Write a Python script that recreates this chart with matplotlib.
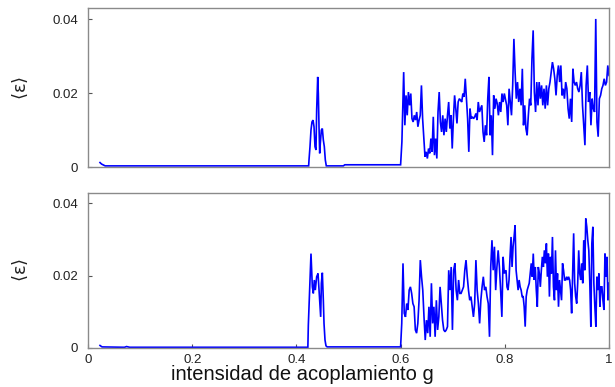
import numpy as np
import matplotlib
matplotlib.use("Agg")
import matplotlib.pyplot as plt

plt.rcParams['font.family'] = ['Liberation Sans', 'DejaVu Sans']
plt.rcParams['mathtext.fontset'] = 'dejavusans'

# ---------------- data: top panel ----------------
top_base_g = [0.023, 0.026, 0.033, 0.4235]
top_base_v = [0.0012, 0.0008, 0.0003, 0.0003]
top_peak_g = [0.4242, 0.4261, 0.4280, 0.4299, 0.4319, 0.4338, 0.4357, 0.4376, 0.4389, 0.4409,
              0.4421, 0.4434, 0.4447, 0.4459, 0.4479, 0.4498, 0.4517, 0.4536, 0.4555, 0.4574]
top_peak_v = [0.0019, 0.0055, 0.0100, 0.0122, 0.0127, 0.0109, 0.0055, 0.0046, 0.0154, 0.0244,
              0.0199, 0.0109, 0.0037, 0.0064, 0.0100, 0.0104, 0.0073, 0.0055, 0.0019, 0.0003]
top_mid_g = [0.490, 0.493, 0.600, 0.6025]
top_mid_v = [0.0003, 0.0006, 0.0006, 0.0068]
top_a_range = (0.6059, 0.7991)
top_a_v = [0.0257, 0.0113, 0.0194, 0.0140, 0.0203, 0.0167, 0.0199, 0.0131, 0.0122, 0.0140,
           0.0127, 0.0149, 0.0109, 0.0127, 0.0140, 0.0221, 0.0131, 0.0077, 0.0028, 0.0041,
           0.0023, 0.0050, 0.0037, 0.0077, 0.0041, 0.0136, 0.0032, 0.0077, 0.0023, 0.0149,
           0.0203, 0.0122, 0.0095, 0.0140, 0.0086, 0.0131, 0.0095, 0.0140, 0.0176, 0.0104,
           0.0140, 0.0050, 0.0131, 0.0194, 0.0158, 0.0118, 0.0176, 0.0185, 0.0181, 0.0176,
           0.0199, 0.0190, 0.0239, 0.0185, 0.0131, 0.0041, 0.0158, 0.0131, 0.0136, 0.0131,
           0.0136, 0.0145, 0.0127, 0.0176, 0.0149, 0.0158, 0.0167, 0.0095, 0.0068, 0.0113,
           0.0086, 0.0185, 0.0244, 0.0086, 0.0140, 0.0032, 0.0194, 0.0158, 0.0185, 0.0172,
           0.0140, 0.0176, 0.0149, 0.0199, 0.0176, 0.0199]
top_b_range = (0.8036, 1.0)
top_b_v = [0.0167, 0.0113, 0.0212, 0.0176, 0.0140, 0.0221, 0.0347, 0.0257, 0.0185, 0.0230,
           0.0176, 0.0212, 0.0167, 0.0266, 0.0113, 0.0167, 0.0104, 0.0086, 0.0140, 0.0185,
           0.0167, 0.0293, 0.0370, 0.0203, 0.0149, 0.0230, 0.0167, 0.0230, 0.0185, 0.0221,
           0.0167, 0.0212, 0.0158, 0.0221, 0.0167, 0.0212, 0.0230, 0.0257, 0.0284, 0.0266,
           0.0239, 0.0194, 0.0248, 0.0275, 0.0230, 0.0275, 0.0194, 0.0212, 0.0185, 0.0230,
           0.0212, 0.0158, 0.0131, 0.0185, 0.0122, 0.0266, 0.0230, 0.0221, 0.0230, 0.0212,
           0.0203, 0.0221, 0.0257, 0.0167, 0.0113, 0.0059, 0.0221, 0.0275, 0.0176, 0.0203,
           0.0113, 0.0185, 0.0158, 0.0149, 0.0401, 0.0122, 0.0082, 0.0185, 0.0194, 0.0212,
           0.0221, 0.0239, 0.0221, 0.0230, 0.0275, 0.0248]

# ---------------- data: bottom panel ----------------
bot_base_g = [0.023, 0.027, 0.070, 0.074, 0.080, 0.4220]
bot_base_v = [0.0007, 0.0003, 0.0002, 0.0004, 0.0002, 0.0002]
bot_peak_g = [0.4229, 0.4280, 0.4306, 0.4325, 0.4344, 0.4363, 0.4389, 0.4415, 0.4434, 0.4453,
              0.4466, 0.4479, 0.4498, 0.4517, 0.4530, 0.4549, 0.4568]
bot_peak_v = [0.0063, 0.0261, 0.0169, 0.0151, 0.0188, 0.0160, 0.0197, 0.0206, 0.0160, 0.0114,
              0.0086, 0.0179, 0.0208, 0.0132, 0.0068, 0.0022, 0.0006]
bot_mid_g = [0.4590, 0.600, 0.6022]
bot_mid_v = [0.0003, 0.0003, 0.0068]
bot_a_range = (0.6046, 0.7991)
bot_a_v = [0.0234, 0.0096, 0.0086, 0.0123, 0.0105, 0.0160, 0.0169, 0.0151, 0.0123, 0.0114,
           0.0050, 0.0041, 0.0068, 0.0132, 0.0243, 0.0197, 0.0160, 0.0086, 0.0022, 0.0077,
           0.0041, 0.0114, 0.0031, 0.0179, 0.0068, 0.0114, 0.0031, 0.0132, 0.0050, 0.0086,
           0.0169, 0.0123, 0.0077, 0.0050, 0.0045, 0.0050, 0.0059, 0.0215, 0.0160, 0.0224,
           0.0050, 0.0215, 0.0234, 0.0160, 0.0132, 0.0188, 0.0151, 0.0151, 0.0160, 0.0169,
           0.0215, 0.0243, 0.0197, 0.0160, 0.0132, 0.0142, 0.0114, 0.0086, 0.0123, 0.0243,
           0.0160, 0.0123, 0.0068, 0.0132, 0.0169, 0.0197, 0.0160, 0.0169, 0.0142, 0.0123,
           0.0031, 0.0224, 0.0298, 0.0215, 0.0280, 0.0160, 0.0224, 0.0270, 0.0224, 0.0160,
           0.0086, 0.0252, 0.0206]
bot_b_range = (0.8023, 1.0)
bot_b_v = [0.0215, 0.0169, 0.0160, 0.0188, 0.0252, 0.0307, 0.0224, 0.0280, 0.0307, 0.0339,
           0.0215, 0.0188, 0.0160, 0.0188, 0.0169, 0.0160, 0.0142, 0.0142, 0.0114, 0.0059,
           0.0142, 0.0160, 0.0169, 0.0179, 0.0206, 0.0234, 0.0197, 0.0261, 0.0188, 0.0224,
           0.0160, 0.0114, 0.0224, 0.0206, 0.0169, 0.0215, 0.0252, 0.0224, 0.0270, 0.0234,
           0.0289, 0.0197, 0.0261, 0.0142, 0.0252, 0.0206, 0.0307, 0.0169, 0.0132, 0.0270,
           0.0160, 0.0206, 0.0114, 0.0188, 0.0160, 0.0132, 0.0234, 0.0215, 0.0188, 0.0188,
           0.0197, 0.0188, 0.0197, 0.0188, 0.0160, 0.0096, 0.0206, 0.0317, 0.0179, 0.0142,
           0.0123, 0.0179, 0.0270, 0.0206, 0.0188, 0.0234, 0.0179, 0.0298, 0.0215, 0.0358,
           0.0335, 0.0298, 0.0270, 0.0179, 0.0059, 0.0289, 0.0335, 0.0179, 0.0114, 0.0059,
           0.0197, 0.0160, 0.0206, 0.0114, 0.0169, 0.0169, 0.0132, 0.0105, 0.0261, 0.0197,
           0.0252, 0.0132, 0.0179]

x_ticks = [0, 0.2, 0.4, 0.6, 0.8, 1]
x_ticklabels = ['0', '0.2', '0.4', '0.6', '0.8', '1']
y_ticks = [0, 0.02, 0.04]
y_ticklabels = ['0', '0.02', '0.04']


def assemble(base_g, base_v, peak_g, peak_v, mid_g, mid_v, a_rng, a_v, b_rng, b_v):
    g = np.concatenate([base_g, peak_g, mid_g,
                        np.linspace(a_rng[0], a_rng[1], len(a_v)),
                        np.linspace(b_rng[0], b_rng[1], len(b_v))])
    v = np.concatenate([base_v, peak_v, mid_v, a_v, b_v])
    return g, v


top_g, top_v = assemble(top_base_g, top_base_v, top_peak_g, top_peak_v, top_mid_g, top_mid_v,
                        top_a_range, top_a_v, top_b_range, top_b_v)
bot_g, bot_v = assemble(bot_base_g, bot_base_v, bot_peak_g, bot_peak_v, bot_mid_g, bot_mid_v,
                        bot_a_range, bot_a_v, bot_b_range, bot_b_v)

W, H = 615, 387
fig = plt.figure(figsize=(W / 100, H / 100), dpi=100)
ax1 = fig.add_axes([88 / W, 1 - 167 / H, 521 / W, 159 / H])
ax2 = fig.add_axes([88 / W, 1 - 348 / H, 521 / W, 155 / H])

for ax, g, v, ymax in ((ax1, top_g, top_v, 0.04306), (ax2, bot_g, bot_v, 0.04285)):
    ax.plot(g, v, color='#0000ff', lw=1.2, solid_joinstyle='miter')
    ax.set_xlim(0, 1)
    ax.set_ylim(0, ymax)
    for s in ax.spines.values():
        s.set_color('#8a8a8a')
        s.set_linewidth(1.0)
    ax.set_yticks(y_ticks)
    ax.set_yticklabels(y_ticklabels)
    ax.tick_params(axis='both', direction='in', length=3, width=0.8, color='#555555',
                   labelsize=9.5, labelcolor='#222222', pad=7)
    ax.tick_params(axis='x', top=False)
    ax.tick_params(axis='y', right=False)
    ax.set_xticks(x_ticks)

ax1.set_xticklabels([])
ax1.tick_params(axis='x', length=0)
ax2.set_xticklabels(x_ticklabels)
ax2.tick_params(axis='x', pad=4)

for yc in (87.5, 270):
    fig.text(20 / W, 1 - yc / H, r'$\langle\mathrm{\varepsilon}\rangle$', rotation=90,
             ha='center', va='center', fontsize=13, color='#222222')

fig.text(302 / W, 1 - 374 / H, 'intensidad de acoplamiento g', ha='center', va='center',
         fontsize=14.5, color='#111111')

fig.savefig('out.png', dpi=100)
